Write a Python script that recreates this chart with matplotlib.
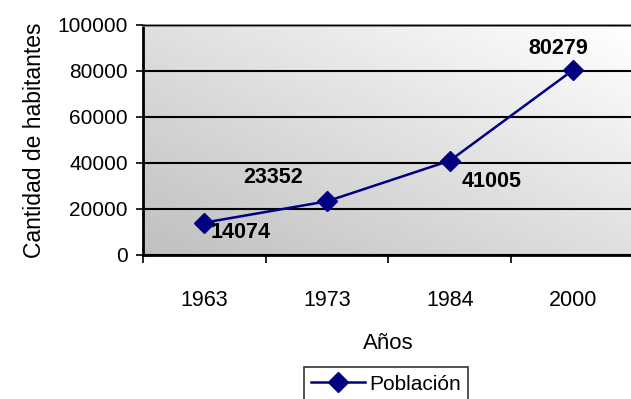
import numpy as np
import matplotlib.pyplot as plt

plt.rcParams['font.family'] = ['Liberation Sans', 'DejaVu Sans']

years = ['1963', '1973', '1984', '2000']
poblacion = [14074, 23352, 41005, 80279]
# label offsets in points (dx, dy) relative to each point
label_offsets = [(26, -7), (-39, 17), (30, -15), (-10, 16)]

fig = plt.figure(figsize=(6.31, 3.99), dpi=100)
ax = fig.add_axes([143/631, 1 - 255/399, 491/631, 230/399])

# diagonal grey gradient background
gx, gy = np.meshgrid(np.linspace(0, 1, 200), np.linspace(0, 1, 100))
grad = 0.75 + 0.25 * (gx + gy) / 2
ax.imshow(grad, cmap='gray', vmin=0, vmax=1, extent=(0, 1, 0, 1),
          origin='lower', transform=ax.transAxes, aspect='auto', zorder=0)

x = np.arange(len(years))
ax.plot(x, poblacion, color='#000080', lw=1.8, marker='D', ms=10,
        label='Población', zorder=3)
for xi, v, (dx, dy) in zip(x, poblacion, label_offsets):
    ax.annotate(str(v), (xi, v), xytext=(dx, dy), textcoords='offset points',
                ha='center', va='center', fontsize=15.5, fontweight='bold')

ax.set_xlim(-0.5, 3.5)
ax.set_ylim(0, 100000)
ax.set_yticks(np.arange(0, 100001, 20000))
ax.yaxis.grid(True, color='black', lw=1.5)
ax.set_axisbelow(False)
ax.set_xticks(np.arange(-0.5, 3.5, 1))
ax.set_xticklabels([])
ax.set_xticks(x, minor=True)
ax.set_xticklabels(years, minor=True)
ax.tick_params(axis='x', which='major', direction='out', length=6, width=1.2)
ax.tick_params(axis='x', which='minor', length=0, pad=25, labelsize=15.5)
ax.tick_params(axis='y', direction='out', length=5, width=1.2, labelsize=15,
               pad=6)

ax.spines['right'].set_visible(False)
ax.spines['top'].set_color('#808080')
ax.spines['top'].set_linewidth(2)
ax.spines['left'].set_linewidth(2)
ax.spines['bottom'].set_linewidth(2)

ax.set_xlabel('Años', fontsize=16, labelpad=16)
ax.set_ylabel('Cantidad de habitantes', fontsize=16.5, labelpad=8)

leg = ax.legend(loc='upper center', bbox_to_anchor=(386/631, 42/399),
                bbox_transform=fig.transFigure, fontsize=15, frameon=True,
                fancybox=False, edgecolor='black', handlelength=2.6,
                borderpad=0.35, handletextpad=0.2)
leg.get_frame().set_linewidth(1.2)

fig.savefig('out.png', dpi=100)
